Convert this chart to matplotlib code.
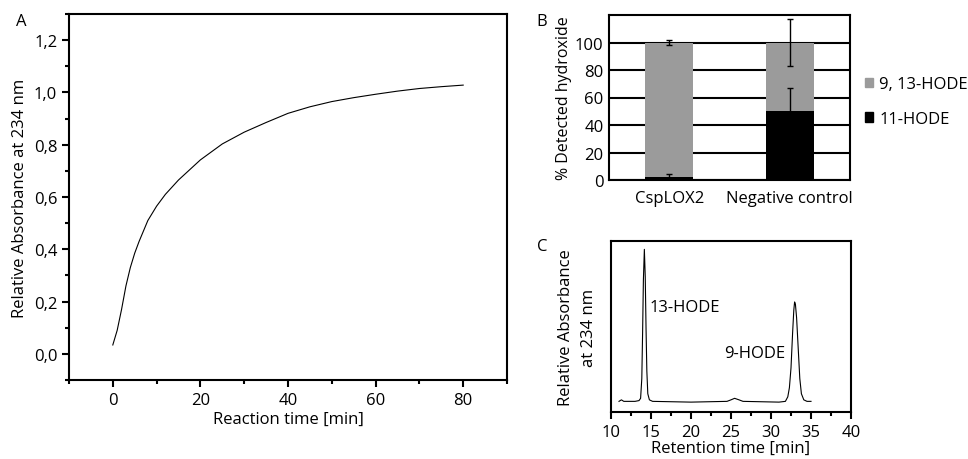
import matplotlib
matplotlib.use("Agg")
import matplotlib.pyplot as plt
from matplotlib.ticker import FuncFormatter, MultipleLocator
from matplotlib.patches import Patch

plt.rcParams['font.family'] = ['Open Sans', 'DejaVu Sans']
plt.rcParams['font.size'] = 12

# A: kinetics
time_min = [0, 1, 1.5, 2, 2.5, 3, 4, 5, 6, 8, 10, 12, 15, 20, 25, 30, 35, 40,
            45, 50, 55, 60, 65, 70, 75, 80]
absorb = [0.034, 0.09, 0.13, 0.17, 0.215, 0.26, 0.33, 0.385, 0.43, 0.51, 0.565,
          0.61, 0.665, 0.742, 0.803, 0.848, 0.885, 0.92, 0.945, 0.965, 0.98,
          0.993, 1.005, 1.015, 1.022, 1.028]

# B: stacked bars
samples = ["CspLOX2", "Negative control"]
hode11 = [2, 50.5]
hode11_err = [2.2, 16.5]
hode913 = [98, 49.5]
hode913_err = [1.8, 17]

# C: chromatogram
ret_time = [11.0, 11.3, 11.6, 12.0, 13.0, 13.5, 13.7, 13.85, 13.95, 14.05, 14.17,
            14.28, 14.38, 14.48, 14.6, 14.8, 15.2, 20.0, 24.5, 25.0, 25.45, 26.0,
            26.5, 31.0, 31.8, 32.1, 32.3, 32.5, 32.7, 32.85, 32.95, 33.05, 33.2,
            33.4, 33.6, 33.8, 34.1, 34.5, 35.0]
ret_abs = [0.0, 0.01, 0.0, 0.0, 0.0, 0.005, 0.02, 0.15, 0.45, 0.8, 1.0,
           0.82, 0.48, 0.2, 0.05, 0.01, 0.0, -0.005, 0.0, 0.01, 0.02, 0.01,
           0.0, -0.005, 0.0, 0.03, 0.09, 0.22, 0.45, 0.6, 0.654, 0.64, 0.55,
           0.35, 0.15, 0.05, 0.01, 0.0, 0.0]

W, H = 968, 460
fig = plt.figure(figsize=(W / 100, H / 100), dpi=100)


def px_axes(l, t, r, b):
    return fig.add_axes([l / W, 1 - b / H, (r - l) / W, (b - t) / H])


comma = FuncFormatter(lambda v, p: f"{v:.1f}".replace(".", ","))

# ---- panel A
ax = px_axes(69, 15, 507, 381)
ax.plot(time_min, absorb, color="black", lw=0.8)
ax.set_xlim(-10, 90)
ax.set_ylim(-0.1, 1.3)
ax.xaxis.set_major_locator(MultipleLocator(20))
ax.xaxis.set_minor_locator(MultipleLocator(10))
ax.yaxis.set_major_locator(MultipleLocator(0.2))
ax.yaxis.set_minor_locator(MultipleLocator(0.1))
ax.yaxis.set_major_formatter(comma)
ax.set_xticks([0, 20, 40, 60, 80])
ax.tick_params(which="both", direction="out", width=1.5)
ax.tick_params(which="major", length=5)
ax.tick_params(which="minor", length=3)
for s in ax.spines.values():
    s.set_linewidth(1.5)
ax.set_xlabel("Reaction time [min]", labelpad=2)
ax.set_ylabel("Relative Absorbance at 234 nm", labelpad=4)
fig.text(21 / W, 1 - 22 / H, "A", ha="center", va="center")

# ---- panel B
bx = px_axes(609, 16, 850, 181)
x = [0, 1]
bx.bar(x, hode11, width=0.4, color="black", zorder=3,
       yerr=hode11_err, capsize=2.5, error_kw=dict(elinewidth=1, ecolor="black"))
bx.bar(x, hode913, width=0.4, bottom=hode11, color="#9b9b9b", zorder=3,
       yerr=hode913_err, capsize=2.5, error_kw=dict(elinewidth=1, ecolor="black"))
bx.set_xlim(-0.5, 1.5)
bx.set_ylim(0, 120)
bx.set_yticks([0, 20, 40, 60, 80, 100])
bx.set_xticks(x)
bx.set_xticklabels(samples)
bx.yaxis.grid(True, color="black", lw=1.5, zorder=0)
bx.tick_params(length=0, pad=4)
bx.tick_params(axis="x", pad=7)
for s in bx.spines.values():
    s.set_linewidth(1.5)
bx.set_ylabel("% Detected hydroxide", labelpad=2, fontsize=11.5)
handles = [Patch(color="#9b9b9b", label="9, 13-HODE"),
           Patch(color="black", label="11-HODE")]
bx.legend(handles=handles, loc="center left", bbox_to_anchor=(1.062, 0.475),
          frameon=False, handlelength=0.5, handleheight=0.5, handletextpad=0.35,
          labelspacing=1.1, borderaxespad=0, borderpad=0)
fig.text(542 / W, 1 - 22 / H, "B", ha="center", va="center")

# ---- panel C
cx = px_axes(611, 242, 851, 413)
cx.plot(ret_time, ret_abs, color="black", lw=0.8)
cx.set_xlim(10, 40)
cx.set_ylim(-0.07, 1.055)
cx.set_yticks([])
cx.xaxis.set_major_locator(MultipleLocator(5))
cx.xaxis.set_minor_locator(MultipleLocator(2.5))
cx.tick_params(axis="x", which="both", direction="out", width=1.5)
cx.tick_params(axis="x", which="major", length=5)
cx.tick_params(axis="x", which="minor", length=3)
for s in cx.spines.values():
    s.set_linewidth(1.5)
cx.text(14.8, 0.62, "13-HODE", ha="left", va="center")
cx.text(24.1, 0.32, "9-HODE", ha="left", va="center")
cx.set_xlabel("Retention time [min]", labelpad=0)
cx.set_ylabel("Relative Absorbance\nat 234 nm", labelpad=10, linespacing=1.6)
fig.text(542 / W, 1 - 247 / H, "C", ha="center", va="center")

fig.savefig("out.png", dpi=100)
